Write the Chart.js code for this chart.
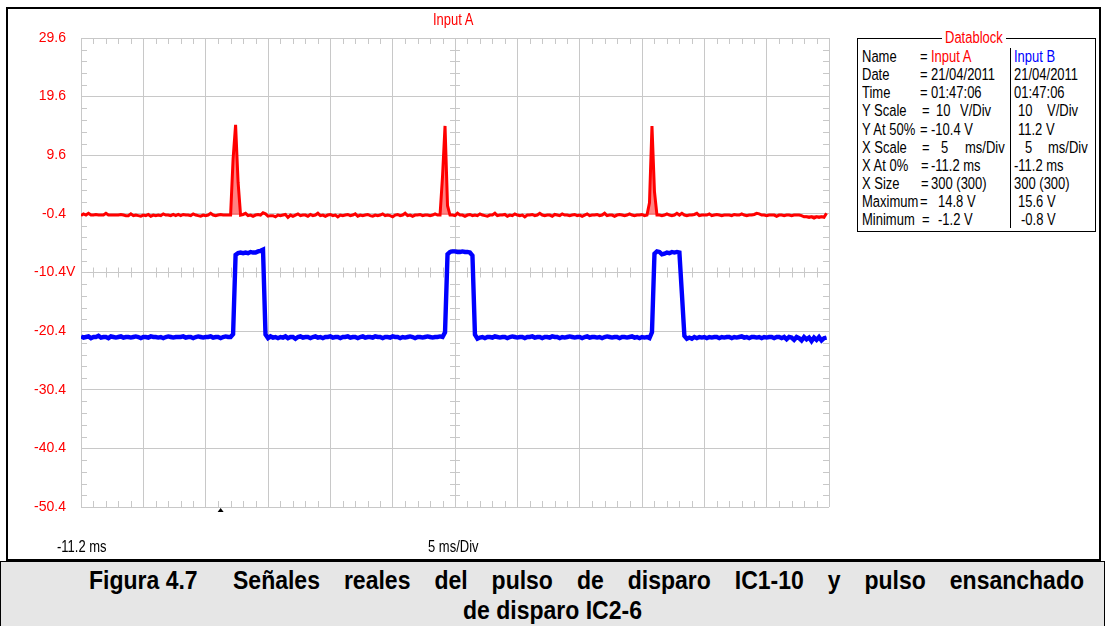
<!DOCTYPE html>
<html>
<head>
<meta charset="utf-8">
<script src="https://cdn.jsdelivr.net/npm/chart.js@4.4.1/dist/chart.umd.min.js"></script>
<style>
  body { margin: 0; background: #fff; }
  #wrap { position: relative; width: 1105px; height: 626px; overflow: hidden;
          font-family: 'Liberation Sans', Arial, sans-serif; }
  #frame { position: absolute; left: 6px; top: 7px; width: 1091px; height: 550px; border: 2px solid #000; }
  #scope { position: absolute; left: 0; top: 0; }
  .t { position: absolute; font-size: 13px; line-height: 18px; height: 18px; white-space: pre; color: #000;
       transform: scaleY(1.22); transform-origin: 0 50%; }
  #chTitle { left: 433px; top: 11px; color: #ff0000; }
  #dblock { position: absolute; left: 857px; top: 38px; width: 237px; height: 192px;
            border: 1px solid #000; background: #fff; }
  #dbTitle { left: 942px; top: 29px; color: #ff0000; background: #fff; padding: 0 3px; }
  #dbDiv { position: absolute; left: 1010px; top: 48px; width: 1px; height: 180px; background: #000; }
  #caption { position: absolute; left: 0; top: 561px; width: 1103px; height: 65px; background: #e6e6e6;
             border-left: 1px solid #000; border-right: 1px solid #000; border-top: 1px solid #000;
             font-family: 'Liberation Sans', Arial, sans-serif; font-weight: bold; font-size: 23px; color: #000; }
  .cap { position: absolute; white-space: pre; line-height: 28px; height: 28px;
         transform: scaleY(1.15); transform-origin: 0 50%; }
  .just { text-align: justify; text-align-last: justify; white-space: normal; }
</style>
</head>
<body>
<div id="wrap">
  <div id="frame"></div>
  <canvas id="scope" width="1105" height="626"></canvas>
  <div class="t" id="chTitle">Input A</div>

  <div id="dblock"></div>
  <div class="t" id="dbTitle">Datablock</div>
  <div id="dbDiv"></div>

  <div class="t" style="left:862px;top:48px">Name</div>
  <div class="t" style="left:920px;top:48px">=</div>
  <div class="t" style="left:931px;top:48px;color:#ff0000">Input A</div>
  <div class="t" style="left:1014px;top:48px;color:#0000ff">Input B</div>

  <div class="t" style="left:862px;top:66px">Date</div>
  <div class="t" style="left:920px;top:66px">=</div>
  <div class="t" style="left:931px;top:66px">21/04/2011</div>
  <div class="t" style="left:1014px;top:66px">21/04/2011</div>

  <div class="t" style="left:862px;top:84px">Time</div>
  <div class="t" style="left:920px;top:84px">=</div>
  <div class="t" style="left:931px;top:84px">01:47:06</div>
  <div class="t" style="left:1014px;top:84px">01:47:06</div>

  <div class="t" style="left:862px;top:102px">Y Scale</div>
  <div class="t" style="left:922px;top:102px">=</div>
  <div class="t" style="left:936px;top:102px">10</div>
  <div class="t" style="left:960px;top:102px">V/Div</div>
  <div class="t" style="left:1018px;top:102px">10</div>
  <div class="t" style="left:1047px;top:102px">V/Div</div>

  <div class="t" style="left:862px;top:121px">Y At 50%</div>
  <div class="t" style="left:920px;top:121px">=</div>
  <div class="t" style="left:931px;top:121px">-10.4 V</div>
  <div class="t" style="left:1018px;top:121px">11.2 V</div>

  <div class="t" style="left:862px;top:139px">X Scale</div>
  <div class="t" style="left:922px;top:139px">=</div>
  <div class="t" style="left:941px;top:139px">5</div>
  <div class="t" style="left:965px;top:139px">ms/Div</div>
  <div class="t" style="left:1025px;top:139px">5</div>
  <div class="t" style="left:1048px;top:139px">ms/Div</div>

  <div class="t" style="left:862px;top:157px">X At 0%</div>
  <div class="t" style="left:921px;top:157px">=</div>
  <div class="t" style="left:931px;top:157px">-11.2 ms</div>
  <div class="t" style="left:1014px;top:157px">-11.2 ms</div>

  <div class="t" style="left:862px;top:175px">X Size</div>
  <div class="t" style="left:921px;top:175px">=</div>
  <div class="t" style="left:931px;top:175px">300 (300)</div>
  <div class="t" style="left:1014px;top:175px">300 (300)</div>

  <div class="t" style="left:862px;top:193px">Maximum</div>
  <div class="t" style="left:920px;top:193px">=</div>
  <div class="t" style="left:938px;top:193px">14.8 V</div>
  <div class="t" style="left:1018px;top:193px">15.6 V</div>

  <div class="t" style="left:862px;top:211px">Minimum</div>
  <div class="t" style="left:922px;top:211px">=</div>
  <div class="t" style="left:938px;top:211px">-1.2 V</div>
  <div class="t" style="left:1021px;top:211px">-0.8 V</div>

  <div class="t" style="left:57px;top:538px">-11.2 ms</div>
  <div class="t" style="left:428px;top:538px">5 ms/Div</div>

  <div id="caption">
    <div class="cap" style="left:88px;top:4px">Figura 4.7</div>
    <div class="cap just" style="left:232px;top:4px;width:851px">Señales reales del pulso de disparo IC1-10 y pulso ensanchado</div>
    <div class="cap" style="left:0;width:1103px;text-align:center;top:34px;transform-origin:50% 50%">de disparo IC2-6</div>
  </div>
</div>

<script>
// time base: 300 samples, 0.2 ms apart, starting at -11.2 ms (X At 0%)
const startTime = -11.2;
const sampleStep = 0.2;
const triggerTime = 0;

const timeGrid = [-11.2, -6.2, -1.2, 3.8, 8.8, 13.8, 18.8, 23.8, 28.8, 33.8, 38.8, 43.8, 48.8];
const voltGrid = [29.6, 19.6, 9.6, -0.4, -10.4, -20.4, -30.4, -40.4, -50.4];

// Input A (red) - trigger pulses, volts
const inputA = [
  -0.7,-0.4,-0.6,-0.3,-0.6,-0.6,-0.5,-0.6,-0.6,-0.6,-0.3,-0.6,-0.6,-0.6,-0.6,-0.6,-0.5,-0.6,-0.7,-0.7,
  -0.4,-0.7,-0.6,-0.7,-0.8,-0.6,-0.7,-0.5,-0.8,-0.6,-0.7,-0.6,-0.7,-0.4,-0.6,-0.6,-0.7,-0.5,-0.7,-0.5,
  -0.7,-0.5,-0.6,-0.6,-0.7,-0.4,-0.6,-0.7,-0.8,-0.6,-0.7,-0.6,-0.3,-0.6,-0.7,-0.6,-0.5,-0.6,-0.6,-0.6,
  -0.6, 9.0,14.8, 5.0,-0.6,-0.5,-0.3,-0.7,-0.6,-0.8,-0.6,-0.5,-0.6,-0.2,-0.4,-0.8,-0.7,-0.7,-0.9,-0.6,
  -0.7,-0.6,-0.5,-1.0,-0.6,-0.8,-0.6,-0.4,-0.7,-0.6,-0.6,-0.8,-0.5,-0.7,-0.6,-0.3,-0.7,-0.6,-0.8,-0.6,
  -0.5,-0.7,-0.6,-0.9,-0.6,-0.7,-0.6,-0.5,-0.7,-0.6,-0.4,-0.8,-0.6,-0.7,-0.6,-0.5,-0.7,-0.8,-0.6,-0.7,
  -0.6,-0.4,-0.7,-0.6,-0.7,-0.9,-0.6,-0.5,-0.7,-0.6,-0.3,-0.7,-0.6,-0.8,-0.6,-0.6,-0.5,-0.7,-0.6,-0.6,
  -0.7,-0.6,-0.4,-0.6,-0.6, 6.0,14.6, 1.0,-0.6,-0.6,-0.7,-0.3,-0.6,-0.6,-0.8,-0.6,-0.5,-0.7,-0.6,-0.7,
  -0.4,-0.6,-0.7,-0.8,-0.6,-0.6,-0.3,-0.7,-0.6,-0.6,-0.5,-0.8,-0.6,-0.7,-0.4,-0.6,-0.7,-0.6,-0.9,-0.6,
  -0.6,-0.5,-0.7,-0.6,-0.3,-0.6,-0.7,-0.6,-0.6,-0.8,-0.5,-0.6,-0.7,-0.4,-0.6,-0.6,-0.7,-0.6,-0.5,-0.7,
  -0.6,-0.8,-0.6,-0.4,-0.7,-0.6,-0.6,-0.5,-0.7,-0.6,-0.3,-0.7,-0.6,-0.6,-0.8,-0.6,-0.5,-0.6,-0.7,-0.6,
  -0.4,-0.6,-0.7,-0.6,-0.6,-0.5,-0.7,-0.6, 1.5,14.6, 3.4,-0.6,-0.6,-0.7,-0.6,-0.4,-0.6,-0.7,-0.6,-0.3,
  -0.6,-0.3,-0.6,-0.7,-0.6,-0.6,-0.5,-0.3,-0.7,-0.6,-0.6,-0.6,-0.4,-0.7,-0.6,-0.5,-0.6,-0.7,-0.6,-0.6,
  -0.6,-0.7,-0.5,-0.6,-0.6,-0.4,-0.6,-0.7,-0.6,-0.6,-0.5,-0.3,-0.4,-0.6,-0.6,-0.7,-0.6,-0.6,-0.6,-0.8,
  -0.6,-0.6,-0.7,-0.6,-0.6,-0.7,-0.6,-0.6,-0.6,-0.7,-0.9,-0.9,-1.0,-0.9,-1.1,-0.9,-1.0,-0.9,-1.0,-0.3
];

// Input B (blue) - widened pulses, volts as shown on screen
const inputB = [
  -21.3,-21.5,-21.4,-21.3,-21.6,-21.4,-21.4,-21.2,-21.5,-21.4,-21.4,-21.6,-21.3,-21.4,-21.5,-21.4,-21.3,-21.5,-21.4,-21.4,
  -21.5,-21.4,-21.3,-21.4,-21.6,-21.4,-21.4,-21.5,-21.3,-21.4,-21.4,-21.5,-21.4,-21.6,-21.4,-21.3,-21.4,-21.5,-21.4,-21.4,
  -21.4,-21.3,-21.5,-21.4,-21.4,-21.6,-21.4,-21.3,-21.4,-21.5,-21.4,-21.4,-21.3,-21.5,-21.4,-21.4,-21.6,-21.4,-21.3,-21.4,
  -21.4,-20.9, -7.4, -7.1, -7.0, -7.1, -7.0, -7.1, -6.9, -7.0, -7.0, -6.8, -6.7, -6.5,-21.0,-21.6,-21.3,-21.5,-21.4,-21.6,
  -21.4,-21.5,-21.3,-21.6,-21.4,-21.4,-21.7,-21.4,-21.3,-21.5,-21.4,-21.4,-21.6,-21.4,-21.3,-21.5,-21.4,-21.6,-21.4,-21.4,
  -21.3,-21.5,-21.4,-21.4,-21.6,-21.4,-21.4,-21.3,-21.5,-21.4,-21.4,-21.6,-21.4,-21.3,-21.5,-21.4,-21.4,-21.5,-21.3,-21.4,
  -21.4,-21.6,-21.4,-21.4,-21.5,-21.3,-21.4,-21.4,-21.6,-21.4,-21.5,-21.4,-21.3,-21.4,-21.6,-21.4,-21.4,-21.5,-21.4,-21.3,
  -21.4,-21.5,-21.4,-21.4,-21.3,-21.4,-20.6, -7.3, -6.9, -6.8, -6.8, -6.9, -6.9, -6.8, -6.9, -6.9, -7.0, -7.5,-21.0,-21.7,
  -21.5,-21.4,-21.6,-21.4,-21.4,-21.5,-21.3,-21.4,-21.5,-21.4,-21.4,-21.6,-21.4,-21.3,-21.4,-21.5,-21.4,-21.4,-21.6,-21.4,
  -21.4,-21.3,-21.5,-21.4,-21.4,-21.6,-21.4,-21.4,-21.5,-21.3,-21.4,-21.4,-21.6,-21.4,-21.5,-21.4,-21.3,-21.4,-21.5,-21.4,
  -21.4,-21.6,-21.4,-21.3,-21.5,-21.4,-21.4,-21.5,-21.4,-21.6,-21.4,-21.3,-21.4,-21.5,-21.4,-21.4,-21.6,-21.4,-21.4,-21.5,
  -21.4,-21.3,-21.5,-21.4,-21.6,-21.4,-21.5,-21.4,-21.6,-20.6, -7.2, -6.8, -6.9, -7.3, -7.2, -7.0, -7.1, -6.9, -7.0, -6.9,
   -7.0,-14.0,-21.2,-21.7,-21.5,-21.7,-21.4,-21.6,-21.4,-21.5,-21.4,-21.6,-21.4,-21.5,-21.4,-21.4,-21.6,-21.4,-21.5,-21.4,
  -21.4,-21.6,-21.4,-21.5,-21.4,-21.3,-21.5,-21.4,-21.6,-21.4,-21.4,-21.5,-21.4,-21.6,-21.4,-21.5,-21.4,-21.4,-21.6,-21.4,
  -21.4,-21.6,-21.4,-21.8,-21.4,-21.5,-21.9,-21.4,-21.6,-22.0,-21.4,-21.8,-21.5,-22.1,-21.5,-21.9,-21.4,-22.0,-21.6,-21.5
];

const toPoints = arr => arr.map((v, i) => ({ x: startTime + i * sampleStep, y: v }));

const gridColor = '#c8c8c8';
const labelFont = { family: "'Liberation Sans', Arial, sans-serif", size: 14 };

// minor division ticks, trigger marker and the "V" unit on the centre label
const scopeMarks = {
  id: 'scopeMarks',
  beforeDatasetsDraw(chart) {
    const { ctx, chartArea: a, scales: { x, y } } = chart;
    const midY = y.getPixelForValue(voltGrid[4]);
    const midX = x.getPixelForValue(timeGrid[6]);
    ctx.save();
    ctx.strokeStyle = gridColor;
    ctx.lineWidth = 1;
    ctx.beginPath();
    for (let k = 0; k < timeGrid.length - 1; k++) {
      for (let j = 1; j < 5; j++) {
        const px = Math.round(x.getPixelForValue(timeGrid[k] + j)) + 0.5;
        ctx.moveTo(px, a.top); ctx.lineTo(px, a.top + 6);
        ctx.moveTo(px, a.bottom); ctx.lineTo(px, a.bottom - 6);
        ctx.moveTo(px, midY - 5); ctx.lineTo(px, midY + 5);
      }
    }
    for (let k = 0; k < voltGrid.length - 1; k++) {
      for (let j = 1; j < 5; j++) {
        const py = Math.round(y.getPixelForValue(voltGrid[k] - 2 * j)) + 0.5;
        ctx.moveTo(a.left, py); ctx.lineTo(a.left + 6, py);
        ctx.moveTo(a.right, py); ctx.lineTo(a.right - 6, py);
        ctx.moveTo(midX - 5, py); ctx.lineTo(midX + 5, py);
      }
    }
    ctx.stroke();
    ctx.restore();
  },
  afterDraw(chart) {
    const { ctx, chartArea: a, scales: { x, y } } = chart;
    ctx.save();
    const tx = x.getPixelForValue(triggerTime);
    ctx.fillStyle = '#000';
    ctx.beginPath();
    ctx.moveTo(tx, a.bottom + 1);
    ctx.lineTo(tx - 3, a.bottom + 5);
    ctx.lineTo(tx + 3, a.bottom + 5);
    ctx.closePath();
    ctx.fill();
    ctx.fillStyle = '#ff0000';
    ctx.font = labelFont.size + 'px ' + labelFont.family;
    ctx.textAlign = 'left';
    ctx.textBaseline = 'middle';
    ctx.fillText('V', a.left - 15, y.getPixelForValue(voltGrid[4]));
    ctx.restore();
  }
};

new Chart(document.getElementById('scope'), {
  type: 'line',
  data: {
    datasets: [
      { label: 'Input B', data: toPoints(inputB), borderColor: '#0000ff', borderWidth: 4.4,
        pointRadius: 0, tension: 0, fill: false },
      { label: 'Input B centre', data: toPoints(inputB), borderColor: '#7878ff', borderWidth: 1.5,
        pointRadius: 0, tension: 0, fill: false },
      { label: 'Input A', data: toPoints(inputA), borderColor: '#ff0000', borderWidth: 3,
        backgroundColor: 'rgba(255, 90, 90, 0.75)', pointRadius: 0, tension: 0, fill: { value: -0.6 } }
    ]
  },
  options: {
    responsive: false,
    animation: false,
    events: [],
    layout: { padding: { left: 0, top: 38, right: 276, bottom: 119 } },
    plugins: { legend: { display: false }, tooltip: { enabled: false } },
    scales: {
      x: {
        type: 'linear',
        min: timeGrid[0],
        max: timeGrid[timeGrid.length - 1],
        afterBuildTicks: s => { s.ticks = timeGrid.map(v => ({ value: v })); },
        afterFit: s => { s.height = 0; },
        ticks: { display: false },
        grid: { color: gridColor, lineWidth: 1, drawTicks: false },
        border: { display: false }
      },
      y: {
        min: voltGrid[voltGrid.length - 1],
        max: voltGrid[0],
        afterBuildTicks: s => { s.ticks = voltGrid.map(v => ({ value: v })); },
        afterFit: s => { s.width = 81; },
        ticks: { color: '#ff0000', font: labelFont, padding: 15, callback: v => v.toFixed(1) },
        grid: { color: gridColor, lineWidth: 1, drawTicks: false },
        border: { display: false }
      }
    }
  },
  plugins: [scopeMarks]
});
</script>
</body>
</html>
